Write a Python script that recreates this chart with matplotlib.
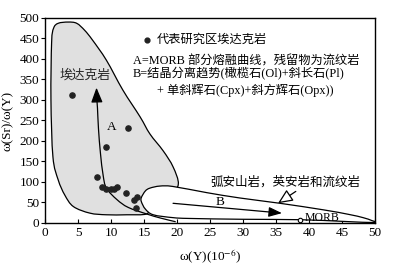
import numpy as np
import matplotlib

matplotlib.use("Agg")
import matplotlib.pyplot as plt
from matplotlib.path import Path
from matplotlib.patches import PathPatch

plt.rcParams["font.family"] = ["Liberation Serif", "Noto Sans CJK SC"]
plt.rcParams["mathtext.fontset"] = "stix"

# adakite samples of the study area
adakite_y = [4.1, 12.6, 9.2, 7.9, 8.7, 9.3, 10.0, 10.4, 10.9, 12.3, 13.5, 14.0, 13.8]
adakite_sr_y = [312, 232, 186, 111, 87, 84, 82, 84, 87, 72, 56, 64, 36]

# adakite field outline
adakite_field_x = [16.0, 15.4, 12.4, 9.3, 6.8, 4.3, 3.0, 2.0, 1.2, 0.9, 1.0, 1.3, 2.0,
                   3.5, 4.8, 6.0, 7.2, 9.3, 11.8, 14.4, 15.9, 17.9, 19.4, 20.2, 19.0]
adakite_field_sr_y = [40, 22, 20, 20, 24, 40, 68, 105, 161, 300, 440, 475, 487,
                      490, 487, 470, 446, 397, 324, 259, 217, 176, 137, 95, 70]

# arc andesite / dacite / rhyolite field outline
arc_field_x = [14.6, 15.2, 15.9, 17.4, 19.4, 24.5, 29.5, 35.6, 42.2, 46.0, 48.2, 49.5, 50.0,
               45.0, 38.7, 30.0, 22.0, 19.4, 16.4, 15.2, 14.6]
arc_field_sr_y = [62, 78, 85, 90, 89, 74, 61, 48, 32, 21, 13, 6, 1,
                  4, 8, 9, 11, 13, 20, 34, 52]

# curve A (MORB partial melting)
curve_a_x = [19.8, 17.5, 15.4, 12.6, 10.9, 9.3, 8.8, 8.4, 8.1, 7.95, 7.85]
curve_a_sr_y = [3, 12, 22, 38, 57, 85, 117, 170, 230, 280, 300]
curve_a_tip = (7.8, 330)

# trend B (crystal fractionation)
trend_b_start = (19.4, 48)
trend_b_end = (35.9, 24)

morb_point = (38.7, 8)

legend_lines = "A=MORB 部分熔融曲线，残留物为流纹岩\nB=结晶分离趋势(橄榄石(Ol)+斜长石(Pl)"


def smooth_path(xs, ys, closed=False):
    pts = np.column_stack([xs, ys]).astype(float)
    n = len(pts)
    verts = [pts[0]]
    codes = [Path.MOVETO]
    segs = n if closed else n - 1
    for i in range(segs):
        p0 = pts[(i - 1) % n] if (closed or i > 0) else pts[i]
        p1 = pts[i]
        p2 = pts[(i + 1) % n]
        p3 = pts[(i + 2) % n] if (closed or i + 2 < n) else pts[(i + 1) % n]
        verts += [p1 + (p2 - p0) / 6, p2 - (p3 - p1) / 6, p2]
        codes += [Path.CURVE4] * 3
    if closed:
        verts.append(pts[0])
        codes.append(Path.CLOSEPOLY)
    return Path(verts, codes)


fig = plt.figure(figsize=(4.03, 2.68), dpi=100)
ax = fig.add_axes([0.1117, 0.168, 0.8188, 0.765])

ax.add_patch(PathPatch(smooth_path(adakite_field_x, adakite_field_sr_y, closed=True),
                       facecolor="#e0e0e0", edgecolor="black", lw=0.9, zorder=1))
ax.add_patch(PathPatch(smooth_path(arc_field_x, arc_field_sr_y, closed=True),
                       facecolor="white", edgecolor="black", lw=0.9, zorder=2))
ax.add_patch(PathPatch(smooth_path(curve_a_x, curve_a_sr_y), facecolor="none",
                       edgecolor="black", lw=0.9, zorder=3))

ax.annotate("", xy=curve_a_tip, xytext=(curve_a_x[-1], curve_a_sr_y[-1]),
            arrowprops=dict(arrowstyle="-|>,head_length=0.9,head_width=0.35",
                            mutation_scale=10, color="black", lw=0.9, shrinkA=0, shrinkB=0),
            zorder=4)
ax.annotate("", xy=trend_b_end, xytext=trend_b_start,
            arrowprops=dict(arrowstyle="-|>,head_length=0.8,head_width=0.3",
                            mutation_scale=10, color="black", lw=0.9, shrinkA=0, shrinkB=0),
            zorder=4)
ax.annotate("", xy=(35.3, 48), xytext=(38.0, 77),
            arrowprops=dict(arrowstyle="-|>,head_length=0.9,head_width=0.4",
                            mutation_scale=10, fc="white", ec="black", lw=0.9,
                            shrinkA=0, shrinkB=0),
            zorder=4)

ax.scatter(adakite_y, adakite_sr_y, s=14, color="#222222", zorder=5)
ax.plot(*morb_point, marker="o", ms=3.2, mfc="white", mec="black", mew=0.8, zorder=5)

ax.text(6.1, 361, "埃达克岩", fontsize=9.2, ha="center", va="center", color="#222222")
ax.text(10.1, 235, "A", fontsize=9.5, ha="center", va="center")
ax.text(26.5, 52, "B", fontsize=9.5, ha="center", va="center")
ax.text(39.4, 11, "MORB", fontsize=8.5, ha="left", va="center")
ax.text(25.0, 98, "弧安山岩，英安岩和流纹岩", fontsize=9, ha="left", va="center")

ax.scatter([15.45], [446], s=12, color="#222222", clip_on=False)
ax.text(17.0, 446, "代表研究区埃达克岩", fontsize=8.8, ha="left", va="center")
ax.text(13.3, 378, legend_lines, fontsize=8.8, ha="left", va="center", linespacing=0.95)
ax.text(17.0, 323, "+ 单斜辉石(Cpx)+斜方辉石(Opx))", fontsize=8.8, ha="left", va="center")

ax.set_xlim(0, 50)
ax.set_ylim(0, 500)
ax.set_xticks(range(0, 51, 5))
ax.set_yticks(range(0, 501, 50))
ax.tick_params(axis="x", direction="in", length=3, labelsize=9.5, pad=3)
ax.tick_params(axis="y", direction="out", length=3, labelsize=9.5, pad=1)
for spine in ax.spines.values():
    spine.set_linewidth(1.0)

ax.set_xlabel("ω(Y)(10$^{-6}$)", fontsize=9.5, labelpad=6)
ax.set_ylabel("ω(Sr)/ω(Y)", fontsize=9.5, labelpad=4)

fig.savefig("out.png", dpi=100)
